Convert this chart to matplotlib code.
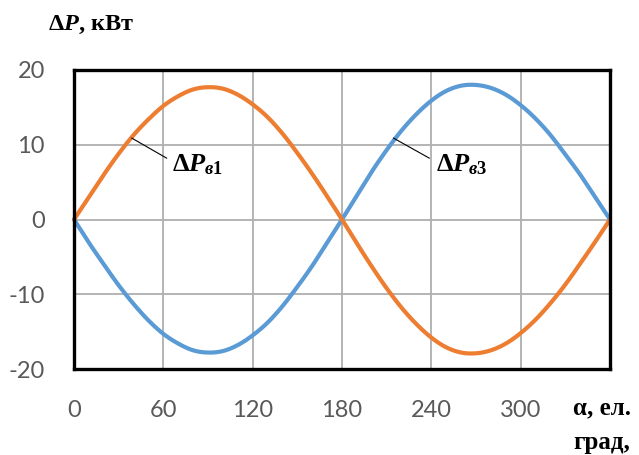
import matplotlib
matplotlib.use('Agg')
import matplotlib.pyplot as plt
import numpy as np

# values (every 10 el. degrees)
alpha = [0, 10, 20, 30, 40, 50, 60, 70, 80, 90, 100, 110, 120, 130, 140, 150, 160, 170, 180,
         190, 200, 210, 220, 230, 240, 250, 260, 270, 280, 290, 300, 310, 320, 330, 340, 350, 360]
dp_s1 = [0.0, 3.0, 6.0, 8.8, 11.3, 13.4, 15.2, 16.5, 17.4, 17.7, 17.5, 16.7, 15.4, 13.7, 11.5, 8.9, 6.1, 3.1, 0.0,
         -3.2, -6.3, -9.2, -11.8, -14.0, -15.8, -17.1, -17.8, -17.9, -17.5, -16.6, -15.2, -13.4, -11.2, -8.7, -5.9, -3.0, 0.0]
dp_s3 = [0.0, -3.1, -6.0, -8.8, -11.3, -13.5, -15.3, -16.6, -17.5, -17.8, -17.6, -16.8, -15.5, -13.8, -11.6, -9.0, -6.2, -3.1, 0.0,
         3.2, 6.4, 9.3, 11.9, 14.1, 15.9, 17.2, 17.9, 18.0, 17.6, 16.7, 15.3, 13.5, 11.3, 8.7, 6.0, 3.0, 0.0]
xticks = [0, 60, 120, 180, 240, 300]
yticks = [-20, -10, 0, 10, 20]

orange = '#ED7D31'
blue = '#5B9BD5'

plt.rcParams['axes.unicode_minus'] = False
plt.rcParams['mathtext.fontset'] = 'custom'
plt.rcParams['mathtext.rm'] = 'Liberation Serif:bold'
plt.rcParams['mathtext.bf'] = 'Liberation Serif:bold'
plt.rcParams['mathtext.it'] = 'Liberation Serif:bold:italic'


def smooth(x, y, n=12):
    # catmull-rom through the read points, like excel's smoothed line
    x = np.asarray(x, float)
    y = np.asarray(y, float)
    px = np.concatenate([[2 * x[0] - x[1]], x, [2 * x[-1] - x[-2]]])
    py = np.concatenate([[2 * y[0] - y[1]], y, [2 * y[-1] - y[-2]]])
    t = np.linspace(0, 1, n, endpoint=False)
    xs, ys = [], []
    for i in range(1, len(px) - 2):
        for p, out in ((px, xs), (py, ys)):
            p0, p1, p2, p3 = p[i - 1], p[i], p[i + 1], p[i + 2]
            out.extend(0.5 * (2 * p1 + (-p0 + p2) * t + (2 * p0 - 5 * p1 + 4 * p2 - p3) * t ** 2
                              + (-p0 + 3 * p1 - 3 * p2 + p3) * t ** 3))
    xs.append(x[-1])
    ys.append(y[-1])
    return np.array(xs), np.array(ys)


fig = plt.figure(figsize=(6.39, 4.55), dpi=100)
ax = fig.add_axes([74 / 639, 1 - 369 / 455, 536 / 639, 299 / 455])

ax.set_xlim(0, 360)
ax.set_ylim(-20, 20)
ax.set_xticks(xticks)
ax.set_yticks(yticks)
ax.grid(True, color='#AFAFAF', linewidth=1.3)
ax.set_axisbelow(True)
for s in ax.spines.values():
    s.set_linewidth(2.4)
    s.set_color('black')
ax.tick_params(length=0, labelsize=17, labelcolor='#595959')
ax.tick_params(axis='y', pad=21)
ax.tick_params(axis='x', pad=22)
for lab in ax.get_xticklabels() + ax.get_yticklabels():
    lab.set_family(['Lato', 'DejaVu Sans'])

xs, ys = smooth(alpha, dp_s3)
ax.plot(xs, ys, color=blue, linewidth=3, solid_capstyle='round', clip_on=False)
xs, ys = smooth(alpha, dp_s1)
ax.plot(xs, ys, color=orange, linewidth=3, solid_capstyle='round', clip_on=False)

# leader lines and curve labels
ax.annotate('', xy=(38.7, 10.9), xytext=(62.3, 8.2),
            arrowprops=dict(arrowstyle='-', color='black', linewidth=0.8, shrinkA=0, shrinkB=0))
ax.annotate('', xy=(214.5, 10.9), xytext=(238.7, 8.2),
            arrowprops=dict(arrowstyle='-', color='black', linewidth=0.8, shrinkA=0, shrinkB=0))
ax.text(66, 7.4, r'$\Delta P_{в1}$', fontsize=19, ha='left', va='center')
ax.text(243, 7.4, r'$\Delta P_{в3}$', fontsize=19, ha='left', va='center')

serif = dict(family='Liberation Serif', fontweight='bold', color='black')
fig.text(48 / 639, 1 - 25 / 455, r'$\Delta P$, кВт', fontsize=17.5, ha='left', va='center', **serif)
fig.text(573 / 639, 1 - 408 / 455, 'α, ел.', fontsize=18, ha='left', va='center', **serif)
fig.text(573 / 639, 1 - 443 / 455, 'град,', fontsize=18, ha='left', va='center', **serif)

fig.savefig('out.png', dpi=100)
